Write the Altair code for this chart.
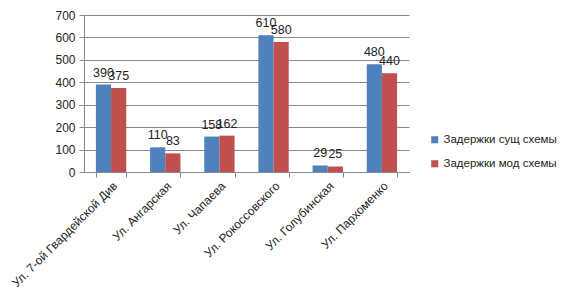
import altair as alt
import pandas as pd

streets = ["Ул. 7-ой Гвардейской Див", "Ул. Ангарская", "Ул. Чапаева",
           "Ул. Рокоссовского", "Ул. Голубинская", "Ул. Пархоменко"]
series_names = ["Задержки сущ схемы", "Задержки мод схемы"]
values_cur = [390, 110, 158, 610, 29, 480]
values_mod = [375, 83, 162, 580, 25, 440]
colors = ["#4F81BD", "#C0504D"]

rows = []
for s, a, b in zip(streets, values_cur, values_mod):
    rows.append({"street": s, "series": series_names[0], "value": a})
    rows.append({"street": s, "series": series_names[1], "value": b})
df = pd.DataFrame(rows)

FONT = "Liberation Sans"

x = alt.X("street:N", sort=streets, title=None,
          scale=alt.Scale(paddingInner=0.44, paddingOuter=0.22),
          axis=alt.Axis(labelAngle=-45, labelFontSize=12, labelColor="#222",
                        labelFont=FONT, domainColor="#888", tickColor="#888",
                        tickSize=5, tickBand="extent", grid=False, labelPadding=3,
                        labelLimit=250))
y = alt.Y("value:Q", title=None,
          scale=alt.Scale(domain=[0, 700], nice=False),
          axis=alt.Axis(values=[0, 100, 200, 300, 400, 500, 600, 700],
                        labelFontSize=12, labelColor="#222", labelFont=FONT,
                        domainColor="#888", tickColor="#888", tickSize=5,
                        gridColor="#8a8a8a", gridWidth=1, labelPadding=4))
xo = alt.XOffset("series:N", sort=series_names,
                 scale=alt.Scale(paddingInner=0, paddingOuter=0))
color = alt.Color("series:N", sort=series_names,
                  scale=alt.Scale(domain=series_names, range=colors),
                  legend=alt.Legend(title=None, orient="none", legendX=345, legendY=119,
                                    symbolType="square", symbolSize=50,
                                    labelFontSize=11.5, labelFont=FONT, labelColor="#222",
                                    labelOffset=3, rowPadding=11, symbolStrokeWidth=0,
                                    labelLimit=250))

base = alt.Chart(df).encode(x=x, y=y, xOffset=xo)
bars = base.mark_bar().encode(color=color)
labels = base.mark_text(dy=-12, fontSize=12.5, font=FONT, color="#222").encode(text="value:Q")

chart = alt.layer(bars, labels).properties(
    width=325, height=157,
    autosize=alt.AutoSizeParams(type="none"),
    padding={"left": 76, "top": 7, "right": 160, "bottom": 120},
).configure_view(stroke=None)

chart.save("out.html", embed_options={"renderer": "svg", "actions": False})
